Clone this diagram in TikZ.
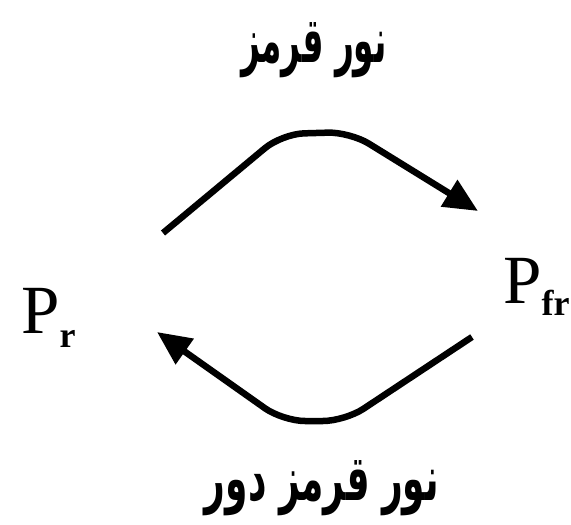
\documentclass[tikz,border=0pt]{standalone}
\usepackage{fontspec}
\setmainfont{Liberation Serif}
\newfontfamily\arabicfont[Script=Arabic]{DejaVu Sans}
\TeXXeTstate=1
\usetikzlibrary{arrows.meta}
\tikzset{
  conv/.style={line width=6.5pt, rounded corners=22pt, -{Triangle[length=34pt,width=30pt]}},
  lbl/.style={inner sep=0pt, font=\arabicfont\bfseries\fontsize{36}{40}\selectfont},
  pig/.style={inner sep=0pt, anchor=base west, font=\fontsize{69}{72}\selectfont}
}
\begin{document}
\begin{tikzpicture}[x=1pt,y=-1pt]
\useasboundingbox (0,0) rectangle (571,525);
\node[pig] (pr) at (21,333) {P\raisebox{-14pt}{\bfseries\fontsize{36}{40}\selectfont r}};
\node[pig] (pfr) at (503,303) {P\raisebox{-12pt}{\bfseries\fontsize{36}{40}\selectfont fr}};
\node[lbl] (red) at (314,50) {\scalebox{0.91}[1.75]{\beginR نور قرمز\endR}};
\node[lbl] (farred) at (322,488) {\scalebox{1.0}[1.75]{\beginR نور قرمز دور\endR}};
\coordinate (a1) at (163,233);
\coordinate (a2) at (478,211);
\coordinate (b1) at (472,337);
\coordinate (b2) at (157,332);
\draw[conv] (a1) -- (282,134) -- (350,132) -- (a2);
\draw[conv] (b1) -- (345,421) -- (283,421) -- (b2);
\end{tikzpicture}
\end{document}
